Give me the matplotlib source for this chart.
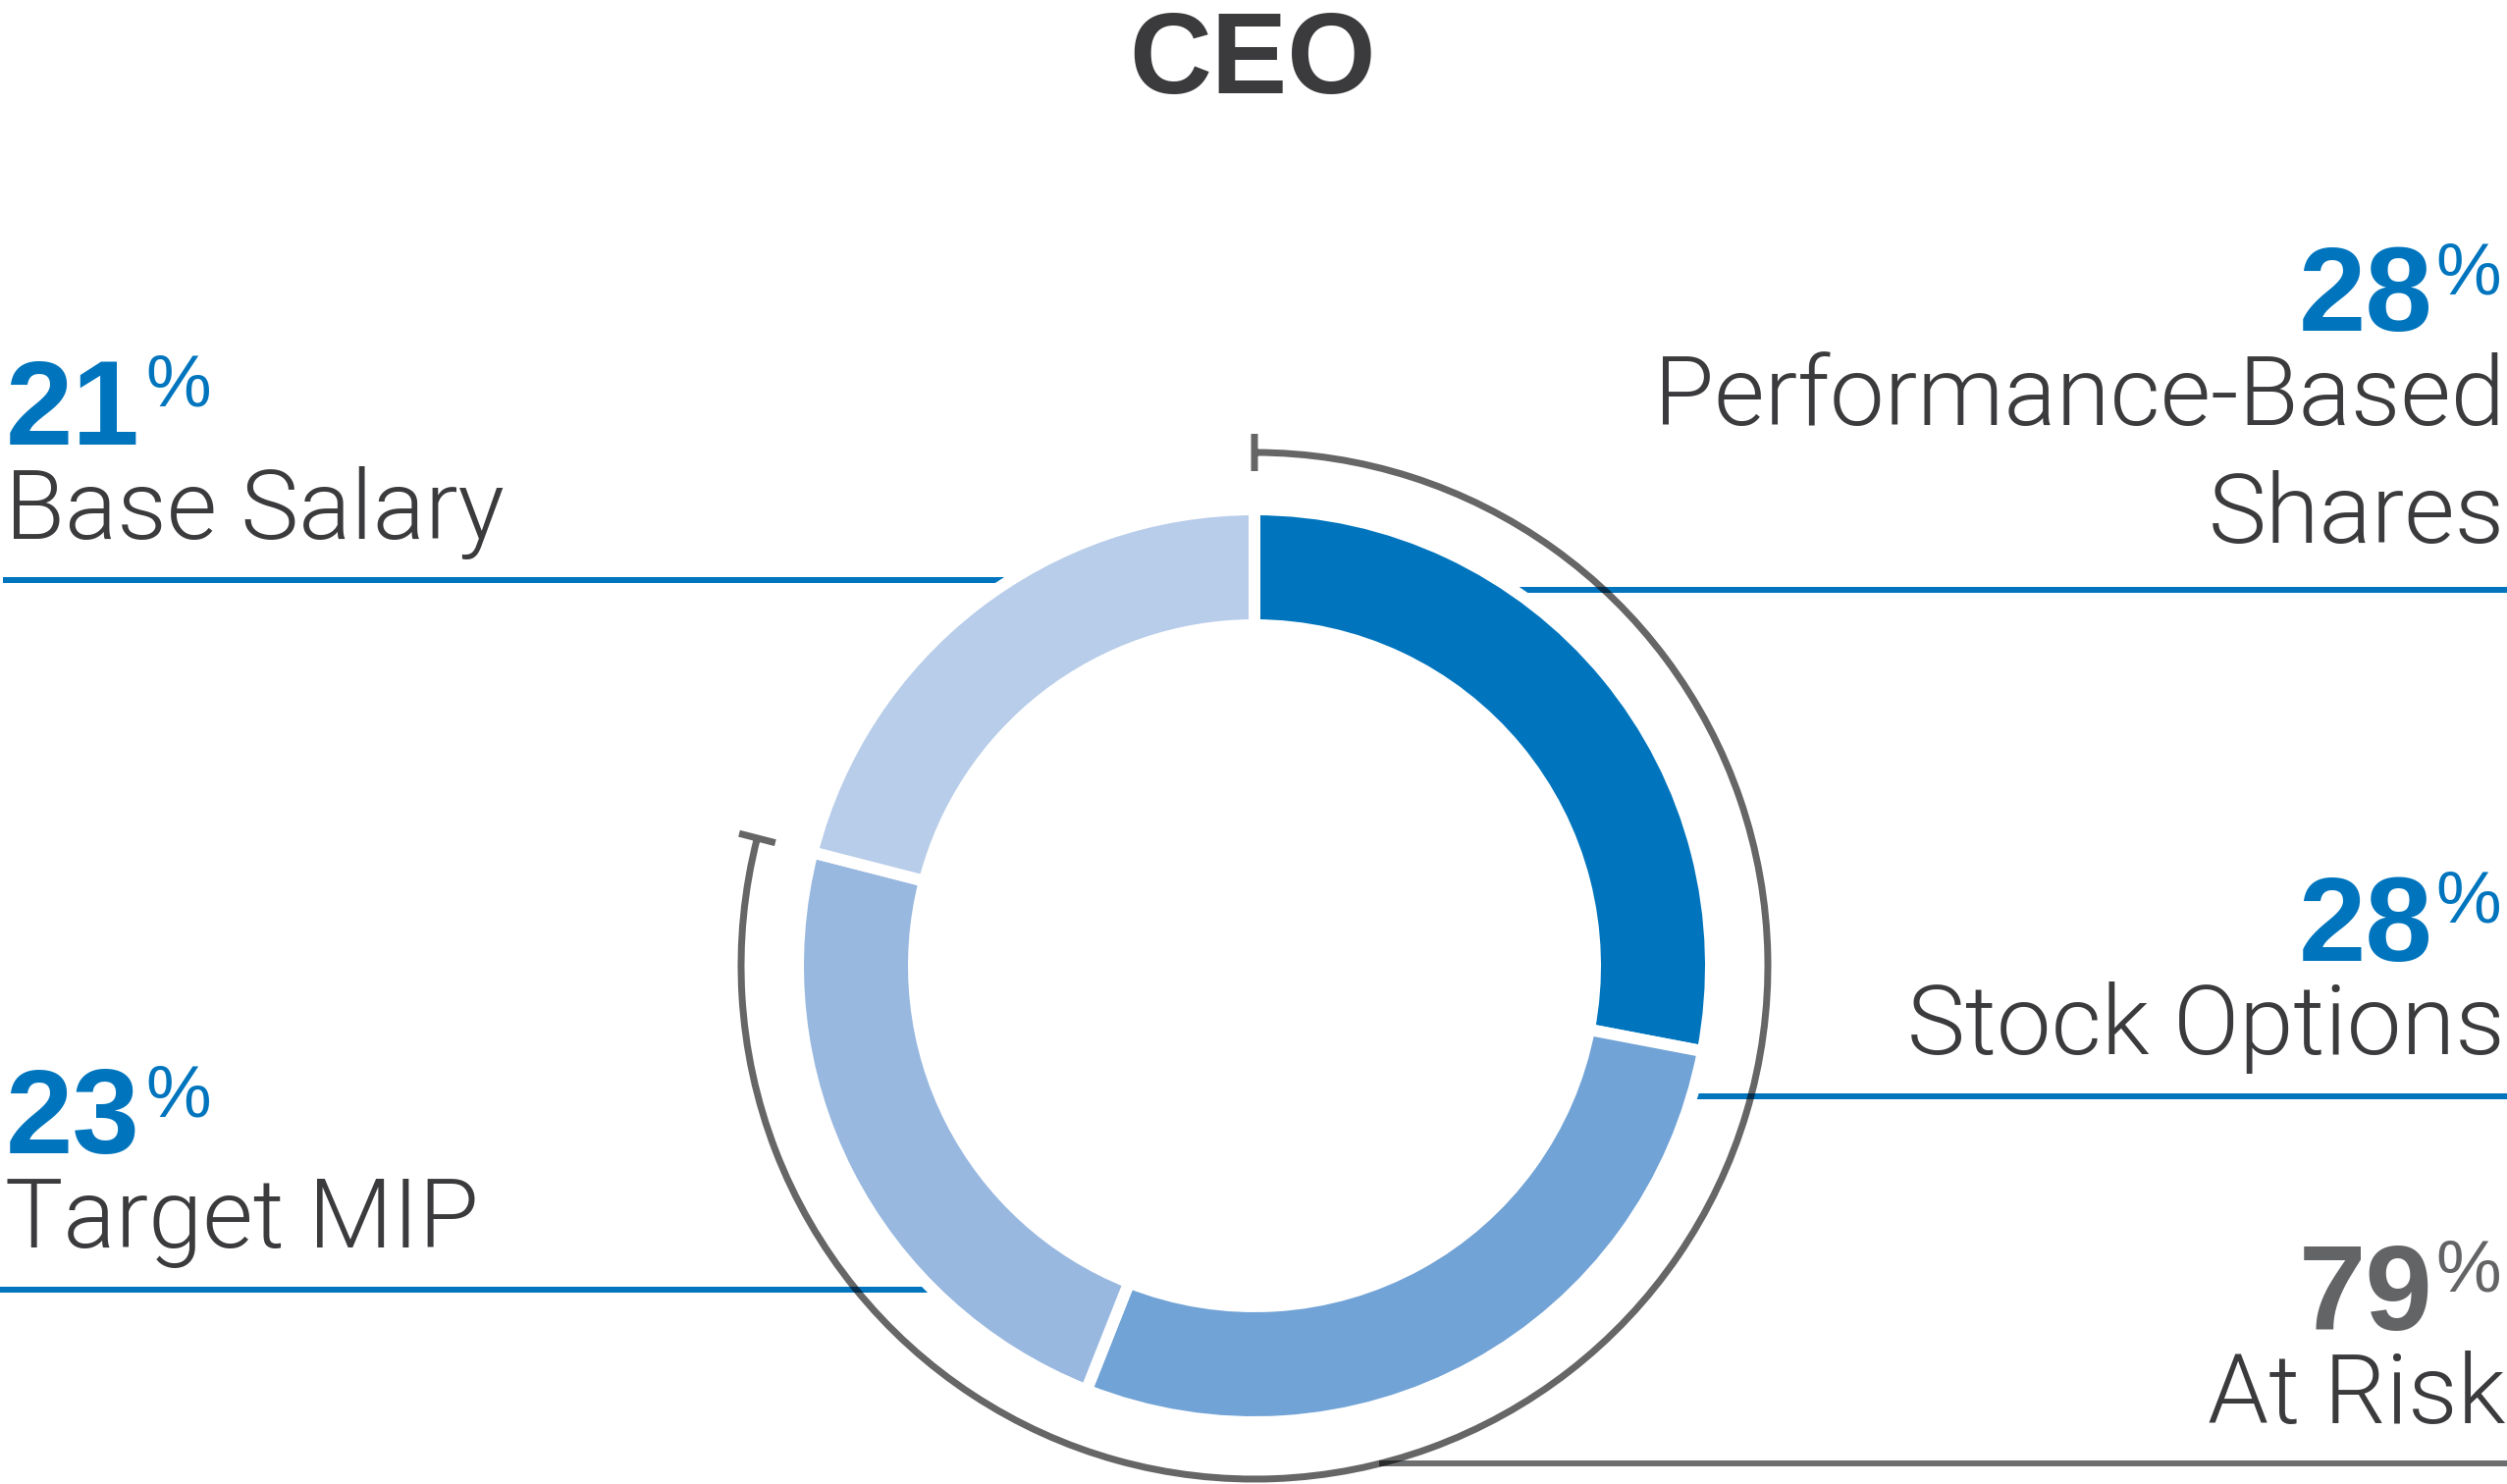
import numpy as np
import matplotlib
matplotlib.use('Agg')
import matplotlib.pyplot as plt
from matplotlib import font_manager as fm
from matplotlib.path import Path
from matplotlib.patches import PathPatch
from matplotlib.transforms import Affine2D

# data
labels = ['Performance-Based\nShares', 'Stock Options', 'Target MIP', 'Base Salary']
values = [28, 28, 23, 21]
colors = ['#0075BE', '#71A3D6', '#98B8E0', '#B8CDE9']
at_risk = 79
title = 'CEO'

BLUE = '#0075BE'
DARK = '#3B3B3D'
GRAY = '#636466'
W, H = 2554, 1512


def pick_light():
    for fam in ['Roboto', 'Inter', 'Lato', 'Open Sans', 'Noto Sans']:
        for f in fm.fontManager.ttflist:
            w = f.weight
            if isinstance(w, str):
                w = fm.weight_dict.get(w, 400)
            if f.name == fam and w <= 300 and f.style == 'normal':
                return fam, w
    return 'Liberation Sans', 'normal'


LIGHT_FAM, LIGHT_W = pick_light()


def pt(px):
    return px * 0.72


def yy(img_y):
    return H - img_y


fig = plt.figure(figsize=(W / 100, H / 100), dpi=100)
ax = fig.add_axes([0, 0, 1, 1])

cx, cy = 1278, yy(984)
r_out, r_in, gap = 459, 353, 12

# leader lines (under the donut, the white edges cut them)
lw_line = pt(6)
ax.plot([3, 1100], [yy(591), yy(591)], color=BLUE, lw=lw_line, solid_capstyle='butt', zorder=1)
ax.plot([0, 1000], [yy(1314), yy(1314)], color=BLUE, lw=lw_line, solid_capstyle='butt', zorder=1)
ax.plot([1450, W], [yy(601), yy(601)], color=BLUE, lw=lw_line, solid_capstyle='butt', zorder=1)
ax.plot([1680, W], [yy(1117), yy(1117)], color=BLUE, lw=lw_line, solid_capstyle='butt', zorder=1)
ax.plot([1405, W], [yy(1491), yy(1491)], color='#6D6E70', lw=lw_line, solid_capstyle='butt', zorder=1)

wedges, _ = ax.pie(values, colors=colors, startangle=90, counterclock=False,
                   center=(cx, cy), radius=r_out + gap / 2,
                   wedgeprops=dict(width=(r_out - r_in) + gap, edgecolor='white',
                                   linewidth=pt(gap)))
for w_ in wedges:
    w_.set_zorder(2)

# "at risk" arc with radial end ticks
r_arc, tick = 523, 38
a0 = 90 - at_risk * 3.6
arc = Path.arc(a0, 90).transformed(Affine2D().scale(r_arc).translate(cx, cy))
segs = [arc]
for a in (90, a0):
    t = np.deg2rad(a)
    p1 = (cx + (r_arc - tick / 2) * np.cos(t), cy + (r_arc - tick / 2) * np.sin(t))
    p2 = (cx + (r_arc + tick / 2) * np.cos(t), cy + (r_arc + tick / 2) * np.sin(t))
    segs.append(Path([p1, p2], [Path.MOVETO, Path.LINETO]))
ax.add_patch(PathPatch(Path.make_compound_path(*segs), facecolor='none',
                       edgecolor='black', alpha=0.6, lw=pt(7), capstyle='butt', zorder=3))

# title
ax.text(1276, yy(95), title, ha='center', va='baseline', fontsize=pt(116),
        fontweight='bold', family='Liberation Sans', color=DARK)

num_kw = dict(va='baseline', fontsize=pt(123), fontweight='bold', family='Liberation Sans')
pct_kw = dict(va='baseline', fontsize=pt(75), family='Liberation Sans')
lab_kw = dict(va='baseline', fontsize=pt(99.5), family=LIGHT_FAM, fontweight=LIGHT_W,
              color=DARK)

# left side
ax.text(6, yy(453), f'{values[3]}', ha='left', color=BLUE, **num_kw)
ax.text(148, yy(414), '%', ha='left', color=BLUE, **pct_kw)
ax.text(5, yy(549), labels[3], ha='left', **lab_kw)

ax.text(6, yy(1175), f'{values[2]}', ha='left', color=BLUE, **num_kw)
ax.text(148, yy(1137), '%', ha='left', color=BLUE, **pct_kw)
ax.text(5, yy(1271), labels[2], ha='left', **lab_kw)

# right side
xr = 2552
ax.text(2479, yy(337), f'{values[0]}', ha='right', color=BLUE, **num_kw)
ax.text(2548, yy(299), '%', ha='right', color=BLUE, **pct_kw)
ax.text(xr, yy(433), 'Performance-Based', ha='right', **lab_kw)
ax.text(xr, yy(553), 'Shares', ha='right', **lab_kw)

ax.text(2479, yy(979), f'{values[1]}', ha='right', color=BLUE, **num_kw)
ax.text(2548, yy(939), '%', ha='right', color=BLUE, **pct_kw)
ax.text(xr, yy(1074), labels[1], ha='right', **lab_kw)

ax.text(2479, yy(1355), f'{at_risk}', ha='right', color=GRAY, **num_kw)
ax.text(2548, yy(1315), '%', ha='right', color=GRAY, **pct_kw)
ax.text(xr, yy(1450), 'At Risk', ha='right', **lab_kw)

ax.set_xlim(0, W)
ax.set_ylim(0, H)
ax.axis('off')

fig.savefig('out.png', dpi=100)
